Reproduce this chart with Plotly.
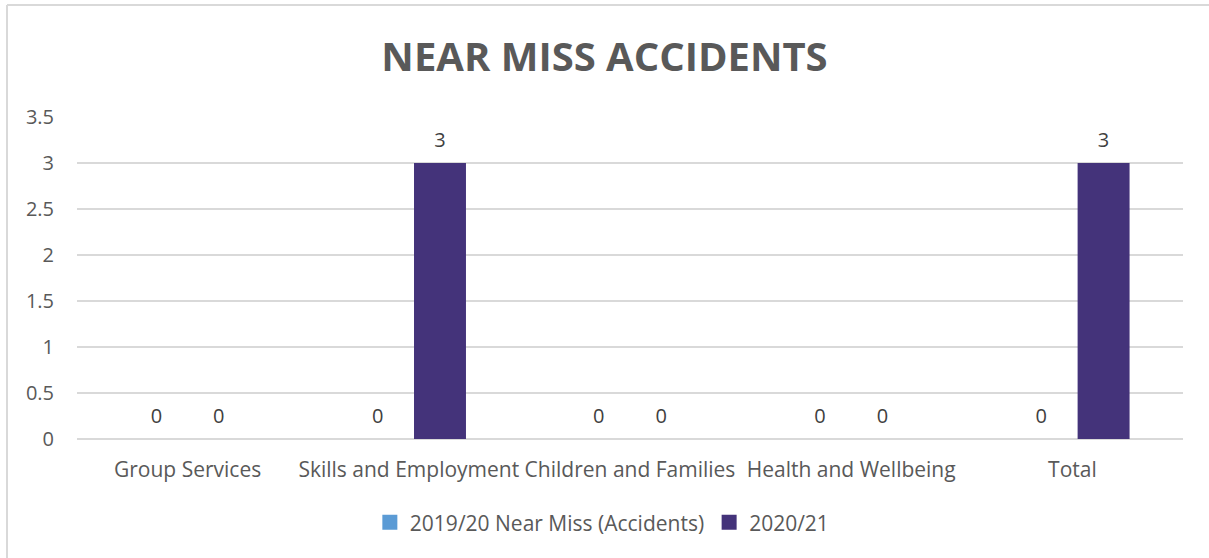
import plotly.graph_objects as go

categories = ["Group Services", "Skills and Employment", "Children and Families",
              "Health and Wellbeing", "Total"]
series_names = ["2019/20 Near Miss (Accidents)", "2020/21"]
values_1920 = [0, 0, 0, 0, 0]
values_2021 = [0, 3, 0, 0, 3]
series_colors = ["#5B9BD5", "#44337A"]
y_ticks = [0, 0.5, 1, 1.5, 2, 2.5, 3, 3.5]

FONT = "'Open Sans', sans-serif"
FS = 20
W, H = 1209, 558
ML, MR, MT, MB = 77, 26, 117, 119

fig = go.Figure()

for name, vals, col in zip(series_names, [values_1920, values_2021], series_colors):
    fig.add_trace(go.Bar(
        x=categories, y=vals, name=name, marker_color=col,
        marker_line_width=0, offsetgroup=name, alignmentgroup="g",
        showlegend=False,
    ))

# value labels sitting above each bar
for name, vals in zip(series_names, [values_1920, values_2021]):
    fig.add_trace(go.Scatter(
        x=categories, y=vals, mode="markers+text", text=[str(v) for v in vals],
        textposition="top center", offsetgroup=name, alignmentgroup="g",
        marker=dict(size=16, color="rgba(0,0,0,0)"),
        textfont=dict(family=FONT, size=FS, color="#404040"),
        showlegend=False, hoverinfo="skip", cliponaxis=False,
    ))

# legend entries with square swatches
for name, col in zip(series_names, series_colors):
    fig.add_trace(go.Scatter(
        x=[None], y=[None], mode="markers", name=name,
        marker=dict(symbol="square", size=15, color=col),
    ))

fig.update_layout(
    width=W, height=H,
    margin=dict(l=ML, r=MR, t=MT, b=MB),
    paper_bgcolor="white", plot_bgcolor="white",
    barmode="group", scattermode="group",
    bargap=0.436, bargroupgap=0.167, scattergap=0.436,
    title=dict(text="<b>NEAR MISS ACCIDENTS</b>", x=0.5, xanchor="center",
               y=1 - 57 / H, yanchor="middle",
               font=dict(family=FONT, size=40, color="#595959")),
    font=dict(family=FONT, size=FS, color="#595959"),
    legend=dict(orientation="h", x=0.475, xanchor="center", y=-0.26, yanchor="middle",
                font=dict(family=FONT, size=21, color="#595959"),
                traceorder="normal", itemwidth=30),
    xaxis=dict(showgrid=False, showline=False, ticks="", tickfont=dict(size=21),
               ticklabelstandoff=16),
    yaxis=dict(range=[0, 3.5], tickvals=y_ticks, ticktext=[f"{t:g}" for t in y_ticks],
               showgrid=True, gridcolor="#D9D9D9", gridwidth=1.5,
               zeroline=True, zerolinecolor="#D9D9D9", zerolinewidth=1.5,
               showline=False, ticks="", ticklabelstandoff=22, tickfont=dict(size=FS)),
    shapes=[
        dict(type="line", xref="paper", yref="paper",
             x0=(7 - ML) / (W - ML - MR), x1=(W + 10 - ML) / (W - ML - MR),
             y0=1 + (MT - 5) / (H - MT - MB), y1=1 + (MT - 5) / (H - MT - MB),
             line=dict(color="#D9D9D9", width=2)),
        dict(type="line", xref="paper", yref="paper",
             x0=(7 - ML) / (W - ML - MR), x1=(7 - ML) / (W - ML - MR),
             y0=1 + (MT - 5) / (H - MT - MB), y1=-(MB + 10) / (H - MT - MB),
             line=dict(color="#D9D9D9", width=2)),
    ],
)

fig.write_html("out.html")
